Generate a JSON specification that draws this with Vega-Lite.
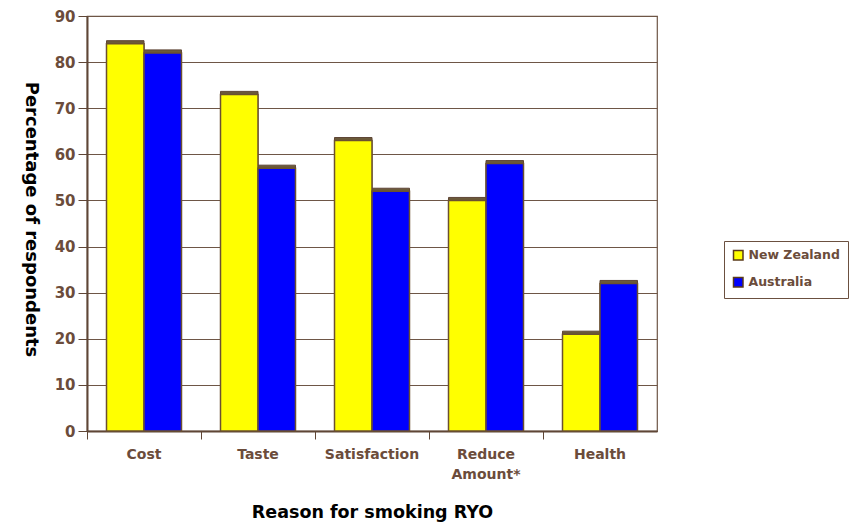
{
  "$schema": "https://vega.github.io/schema/vega-lite/v6.json",
  "width": 570,
  "height": 415,
  "autosize": {"type": "none"},
  "padding": {"left": 87, "top": 16, "right": 202, "bottom": 96},
  "background": "white",
  "config": {
    "view": {"stroke": "#6e5646", "strokeWidth": 1.2},
    "font": "DejaVu Sans"
  },
  "data": {
    "values": [
      {"reason": "Cost", "country": "New Zealand", "pct": 84},
      {"reason": "Cost", "country": "Australia", "pct": 82},
      {"reason": "Taste", "country": "New Zealand", "pct": 73},
      {"reason": "Taste", "country": "Australia", "pct": 57},
      {"reason": "Satisfaction", "country": "New Zealand", "pct": 63},
      {"reason": "Satisfaction", "country": "Australia", "pct": 52},
      {"reason": "Reduce Amount*", "country": "New Zealand", "pct": 50},
      {"reason": "Reduce Amount*", "country": "Australia", "pct": 58},
      {"reason": "Health", "country": "New Zealand", "pct": 21},
      {"reason": "Health", "country": "Australia", "pct": 32}
    ]
  },
  "encoding": {
    "x": {
      "field": "reason",
      "type": "nominal",
      "sort": null,
      "scale": {"paddingInner": 0, "paddingOuter": 0},
      "axis": {
        "title": "Reason for smoking RYO",
        "titleFontSize": 17.5,
        "titleFontWeight": "bold",
        "titleColor": "black",
        "titleX": 285,
        "titleY": 81,
        "titleBaseline": "middle",
        "labelAngle": 0,
        "labelFontSize": 14,
        "labelFontWeight": "bold",
        "labelColor": "#6b4c3b",
        "labelPadding": 8,
        "labelExpr": "datum.value == 'Reduce Amount*' ? ['Reduce', 'Amount*'] : datum.value",
        "labelLineHeight": 20,
        "bandPosition": 0,
        "tickSize": 8,
        "tickColor": "#5f4636",
        "domainColor": "#5f4636",
        "domainWidth": 2,
        "grid": false
      }
    },
    "xOffset": {
      "field": "country",
      "type": "nominal",
      "sort": ["New Zealand", "Australia"],
      "scale": {"paddingInner": 0, "paddingOuter": 0.52}
    },
    "y": {
      "field": "pct",
      "type": "quantitative",
      "scale": {"domain": [0, 90], "nice": false},
      "axis": {
        "title": "Percentage of respondents",
        "titleFontSize": 18,
        "titleFontWeight": "bold",
        "titleColor": "black",
        "titleX": -57,
        "titleY": 203,
        "titleAlign": "center",
        "titleBaseline": "middle",
        "titleAngle": 90,
        "values": [0, 10, 20, 30, 40, 50, 60, 70, 80, 90],
        "labelFontSize": 15,
        "labelFontWeight": "bold",
        "labelColor": "#6b4c3b",
        "labelPadding": 3,
        "tickSize": 9,
        "tickColor": "#5f4636",
        "domainColor": "#5f4636",
        "domainWidth": 2,
        "grid": true,
        "gridColor": "#6e5646",
        "gridWidth": 1.2,
        "gridOpacity": 1
      }
    }
  },
  "layer": [
    {
      "mark": {
        "type": "bar",
        "xOffset": 3,
        "x2Offset": 3,
        "yOffset": -3,
        "y2Offset": -3,
        "fill": "#6b5a3a",
        "stroke": "#5f4636",
        "strokeWidth": 1
      }
    },
    {
      "mark": {"type": "bar", "stroke": "#6b5030", "strokeWidth": 1.5},
      "encoding": {
        "color": {
          "field": "country",
          "type": "nominal",
          "sort": ["New Zealand", "Australia"],
          "scale": {"domain": ["New Zealand", "Australia"], "range": ["#ffff00", "#0000ff"]},
          "legend": {
            "title": null,
            "orient": "none",
            "legendX": 637,
            "legendY": 225,
            "symbolType": "square",
            "symbolSize": 90,
            "symbolStrokeColor": "#5a3a1a",
            "symbolStrokeWidth": 1.5,
            "symbolOpacity": 1,
            "labelFontSize": 12.5,
            "labelFontWeight": "bold",
            "labelColor": "#6b4c3b",
            "rowPadding": 11,
            "padding": 8,
            "strokeColor": "#6b5040",
            "fillColor": "white"
          }
        }
      }
    }
  ]
}
